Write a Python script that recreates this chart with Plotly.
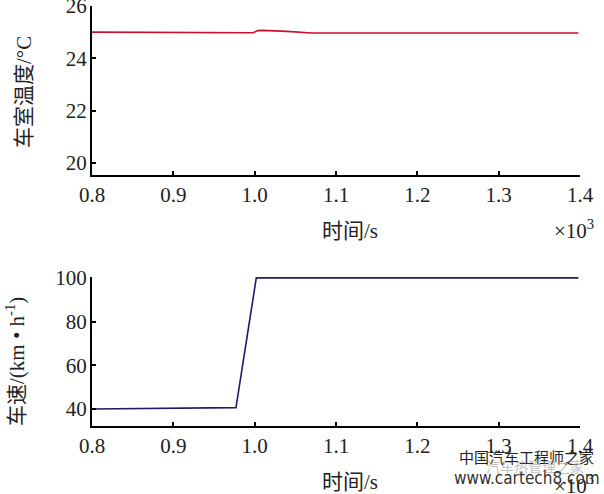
import plotly.graph_objects as go

# time in units of 10^3 s
t_temp = [0.80, 0.90, 0.998, 1.004, 1.010, 1.040, 1.070, 1.20, 1.30, 1.398]
temp = [25.00, 24.99, 24.98, 25.06, 25.07, 25.03, 24.97, 24.97, 24.97, 24.97]

t_speed = [0.80, 0.90, 0.977, 1.002, 1.10, 1.20, 1.30, 1.398]
speed = [40.0, 40.3, 40.6, 100.0, 100.0, 100.0, 100.0, 100.0]

x_ticks = [0.8, 0.9, 1.0, 1.1, 1.2, 1.3, 1.4]
temp_ticks = [20, 22, 24, 26]
speed_ticks = [40, 60, 80, 100]

W, H = 604, 494
SERIF = "Times New Roman, Liberation Serif, DejaVu Serif, serif"
CJK = "Noto Sans CJK SC"

def px(x):
    return x / W

def py(y):
    return 1 - y / H

fig = go.Figure()
fig.add_trace(go.Scatter(x=t_temp, y=temp, mode="lines",
                         line=dict(color="#c8102e", width=1.6), xaxis="x", yaxis="y"))
fig.add_trace(go.Scatter(x=t_speed, y=speed, mode="lines",
                         line=dict(color="#1c1c6b", width=1.6), xaxis="x2", yaxis="y2"))

axis_common = dict(showline=True, linecolor="black", linewidth=2, ticks="inside",
                   ticklen=4, tickwidth=1.5, tickcolor="black", showgrid=False,
                   zeroline=False, mirror=False, automargin=False,
                   ticklabeloverflow="allow",
                   tickfont=dict(family=SERIF, size=21, color="#222"))

xdom = [px(92), px(580)]
fig.update_layout(
    width=W, height=H, margin=dict(l=0, r=0, t=0, b=0),
    paper_bgcolor="white", plot_bgcolor="white", showlegend=False,
    font=dict(family=SERIF, size=21, color="#222"),
    xaxis=dict(domain=xdom, range=[0.8, 1.4], tickvals=x_ticks, tickformat=".1f",
               anchor="y", ticklabelstandoff=0, **axis_common),
    yaxis=dict(domain=[py(175), py(6)], range=[19.54, 26.0], tickvals=temp_ticks,
               anchor="x", ticklabelstandoff=-1, **axis_common),
    xaxis2=dict(domain=xdom, range=[0.8, 1.4], tickvals=x_ticks, tickformat=".1f",
                anchor="y2", ticklabelstandoff=0, **axis_common),
    yaxis2=dict(domain=[py(426), py(277)], range=[32.2, 100.4], tickvals=speed_ticks,
                anchor="x2", ticklabelstandoff=-1, **axis_common),
)

ann = []
def add(text, x, y, size=21, family=SERIF, color="#222", angle=0, xanchor="center", yanchor="middle"):
    ann.append(dict(text=text, x=px(x), y=py(y), xref="paper", yref="paper",
                    showarrow=False, textangle=angle, xanchor=xanchor, yanchor=yanchor,
                    font=dict(size=size, family=family, color=color)))

cj = "<span style='font-family:Noto Sans CJK SC'>%s</span>"
add(cj % "时间" + "/s", 350, 229, size=21)
add("×10<sup>3</sup>", 552, 229, size=21, xanchor="left")
add(cj % "车室温度" + "/°C", 22, 92, size=21, angle=-90)
add(cj % "时间" + "/s", 350, 480, size=21)
add("×10<sup>3</sup>", 552, 484, size=21, xanchor="left")
add(cj % "车速" + "/(km • h<sup>-1</sup>)", 15, 362, size=21, angle=-90)
# watermark
add("中国汽车工程师之家", 526, 456, size=15, family=CJK, color="#222")
add("汽车热管理之家", 535, 466, size=14, family=CJK, color="rgba(150,150,150,0.6)")
add("www.cartech8.com", 527, 478, size=17, family="DejaVu Sans Condensed", color="#333")

fig.update_layout(annotations=ann)
fig.write_html("out.html", config={"displayModeBar": False},
               post_script="document.body.style.margin='0';document.body.style.overflow='hidden';")
